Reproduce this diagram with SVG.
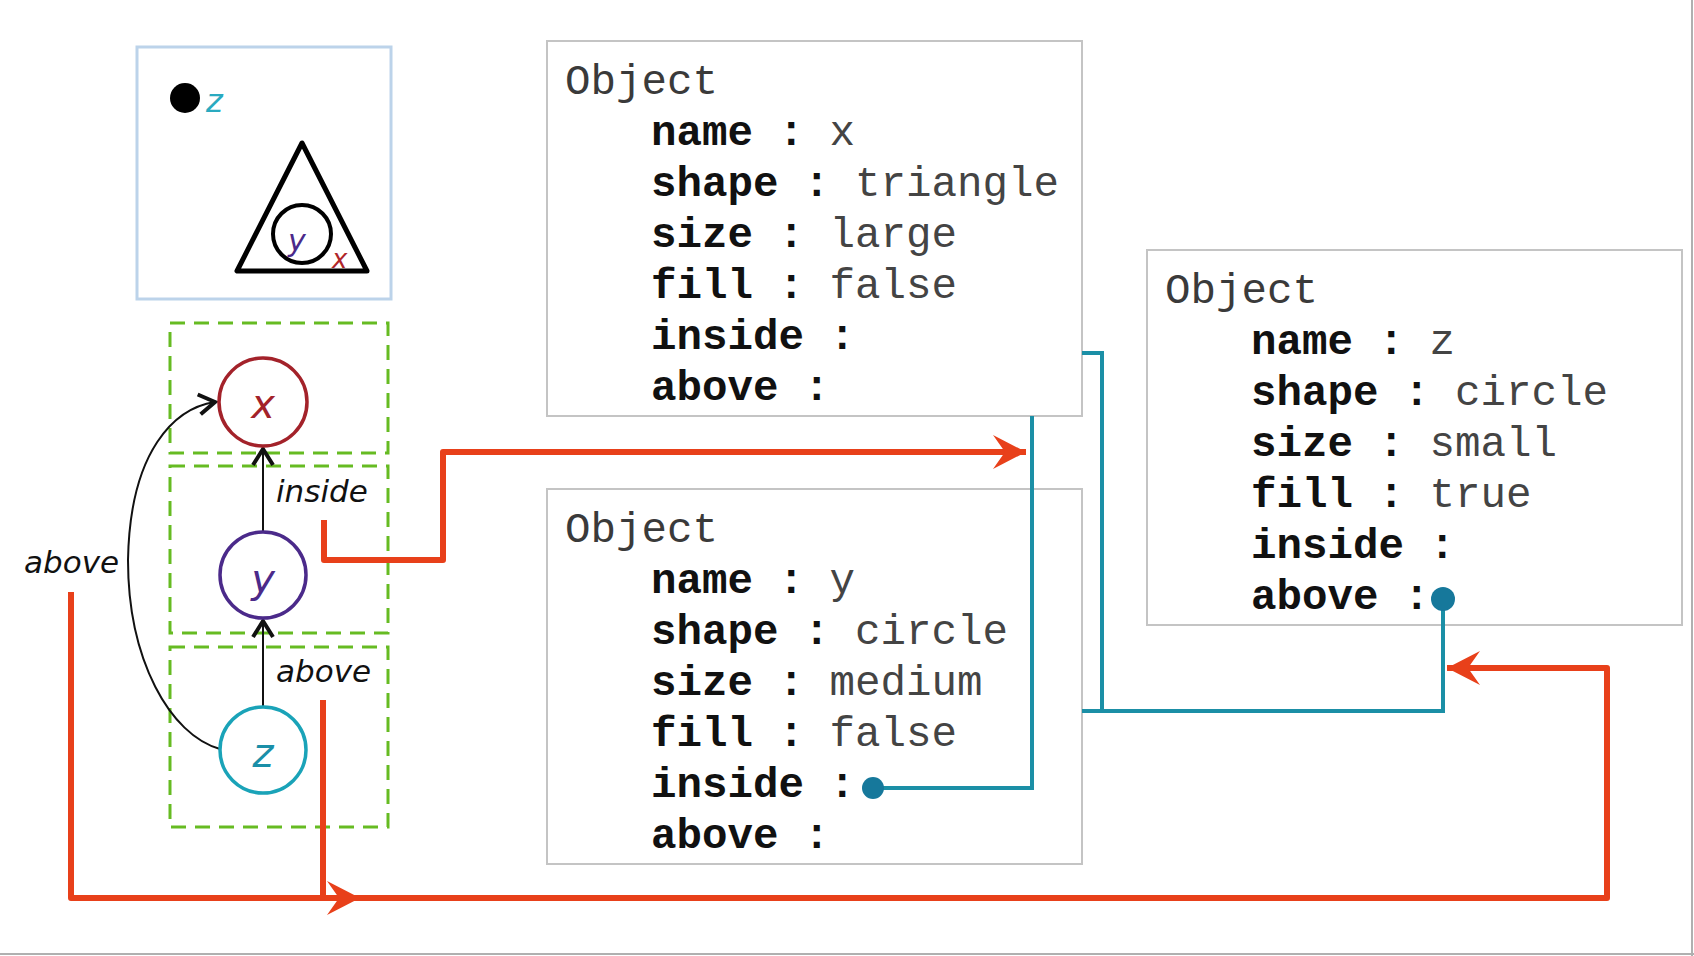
<svg xmlns="http://www.w3.org/2000/svg" width="1694" height="956" viewBox="0 0 1694 956">
<style>
.obj{fill:#fff;stroke:#c4c4c4;stroke-width:2}
.mono{font-family:"Liberation Mono","DejaVu Sans Mono",monospace;font-size:42.5px;white-space:pre}
.hd{fill:#3a3a3a}
.k{font-weight:bold;fill:#111}
.v{fill:#444}
.grp{fill:none;stroke:#66bb22;stroke-width:3;stroke-dasharray:15 9}
.hand{font-family:"DejaVu Sans",sans-serif;font-style:oblique}
.lbl{font-size:31px;fill:#111}
.orange{fill:none;stroke:#e8401a;stroke-width:6;stroke-linejoin:round}
.teal{fill:none;stroke:#1b8fa6;stroke-width:4}
.dot{fill:#16789b}
.gedge{fill:none;stroke:#111;stroke-width:2}
</style>
<defs>
<marker id="barb" markerUnits="userSpaceOnUse" markerWidth="40" markerHeight="40" viewBox="-36 -20 40 40" refX="0" refY="0" orient="auto">
<path d="M0,0 L-33,-17 L-21,0 L-33,17 Z" fill="#e8401a"/>
</marker>
<marker id="chev" markerUnits="userSpaceOnUse" markerWidth="30" markerHeight="30" viewBox="-20 -15 24 30" refX="0" refY="0" orient="auto">
<path d="M-16,-10 L0,0 L-16,10" fill="none" stroke="#111" stroke-width="4" stroke-linejoin="miter"/>
</marker>
</defs>
<rect width="1694" height="956" fill="#fff"/>
<line x1="0" y1="954" x2="1694" y2="954" stroke="#b0b0b0" stroke-width="2"/>
<line x1="1692" y1="0" x2="1692" y2="956" stroke="#b0b0b0" stroke-width="2"/>

<g id="picture">
<rect x="137" y="47" width="254" height="252" fill="#fff" stroke="#bcd3ea" stroke-width="3"/>
<circle cx="185" cy="98" r="15" fill="#000"/>
<text x="206" y="112" class="hand" font-size="32" fill="#2aaac0">z</text>
<polygon points="302,143 237,271 367,271" fill="none" stroke="#000" stroke-width="5" stroke-linejoin="round"/>
<circle cx="302" cy="234" r="29" fill="none" stroke="#000" stroke-width="4"/>
<text x="288" y="251" class="hand" font-size="30" fill="#4b2a8a">y</text>
<text x="332" y="268" class="hand" font-size="26" fill="#b0262a">x</text>
</g>

<g id="groups">
<rect class="grp" x="170" y="323" width="218" height="130"/>
<rect class="grp" x="170" y="466" width="218" height="167"/>
<rect class="grp" x="170" y="647" width="218" height="180"/>
</g>

<g id="object-x">
<rect class="obj" x="547" y="41" width="535" height="375"/>
<text class="mono hd" x="565" y="94">Object</text>
<text class="mono" x="651" y="145"><tspan class="k">name :</tspan><tspan class="v"> x</tspan></text>
<text class="mono" x="651" y="196"><tspan class="k">shape :</tspan><tspan class="v"> triangle</tspan></text>
<text class="mono" x="651" y="247"><tspan class="k">size :</tspan><tspan class="v"> large</tspan></text>
<text class="mono" x="651" y="298"><tspan class="k">fill :</tspan><tspan class="v"> false</tspan></text>
<text class="mono" x="651" y="349"><tspan class="k">inside :</tspan></text>
<text class="mono" x="651" y="400"><tspan class="k">above :</tspan></text>
</g>

<g id="object-y">
<rect class="obj" x="547" y="489" width="535" height="375"/>
<text class="mono hd" x="565" y="542">Object</text>
<text class="mono" x="651" y="593"><tspan class="k">name :</tspan><tspan class="v"> y</tspan></text>
<text class="mono" x="651" y="644"><tspan class="k">shape :</tspan><tspan class="v"> circle</tspan></text>
<text class="mono" x="651" y="695"><tspan class="k">size :</tspan><tspan class="v"> medium</tspan></text>
<text class="mono" x="651" y="746"><tspan class="k">fill :</tspan><tspan class="v"> false</tspan></text>
<text class="mono" x="651" y="797"><tspan class="k">inside :</tspan></text>
<text class="mono" x="651" y="848"><tspan class="k">above :</tspan></text>
</g>

<g id="object-z">
<rect class="obj" x="1147" y="250" width="535" height="375"/>
<text class="mono hd" x="1165" y="303">Object</text>
<text class="mono" x="1251" y="354"><tspan class="k">name :</tspan><tspan class="v"> z</tspan></text>
<text class="mono" x="1251" y="405"><tspan class="k">shape :</tspan><tspan class="v"> circle</tspan></text>
<text class="mono" x="1251" y="456"><tspan class="k">size :</tspan><tspan class="v"> small</tspan></text>
<text class="mono" x="1251" y="507"><tspan class="k">fill :</tspan><tspan class="v"> true</tspan></text>
<text class="mono" x="1251" y="558"><tspan class="k">inside :</tspan></text>
<text class="mono" x="1251" y="609"><tspan class="k">above :</tspan></text>
</g>

<g id="connectors">
<path class="gedge" d="M263,531 V449" marker-end="url(#chev)"/>
<path class="gedge" d="M263,706 V621" marker-end="url(#chev)"/>
<path class="gedge" d="M220,749 C170,735 128,660 128,560 C130,450 175,408 215,402" marker-end="url(#chev)"/>
<text x="276" y="502" class="hand lbl">inside</text>
<text x="276" y="682" class="hand lbl">above</text>
<text x="24" y="573" class="hand lbl">above</text>

<path class="orange" d="M324,520 V560 H443 V452 H1026" marker-end="url(#barb)"/>
<path class="orange" d="M323,700 V898"/>
<path class="orange" d="M71,592 V898 H360" marker-end="url(#barb)"/>
<path class="orange" d="M355,898 H1607 V668 H1447" marker-end="url(#barb)"/>

<path class="teal" d="M1082,353 H1102 V711"/>
<path class="teal" d="M1082,711 H1443 V599"/>
<path class="teal" d="M873,788 H1032 V416"/>
<circle class="dot" cx="873" cy="788" r="11"/>
<circle class="dot" cx="1443" cy="599" r="12"/>
</g>

<g id="node-x">
<circle cx="263" cy="402" r="44" fill="#fff" stroke="#a3222a" stroke-width="3.5"/>
<text x="263" y="418" text-anchor="middle" class="hand" font-size="40" fill="#a3222a">x</text>
</g>
<g id="node-y">
<circle cx="263" cy="575" r="43" fill="#fff" stroke="#4b2a8a" stroke-width="3.5"/>
<text x="263" y="593" text-anchor="middle" class="hand" font-size="40" fill="#4b2a8a">y</text>
</g>
<g id="node-z">
<circle cx="263" cy="750" r="43" fill="#fff" stroke="#1aa3b8" stroke-width="3.5"/>
<text x="263" y="767" text-anchor="middle" class="hand" font-size="40" fill="#1a8fa8">z</text>
</g>
</svg>
